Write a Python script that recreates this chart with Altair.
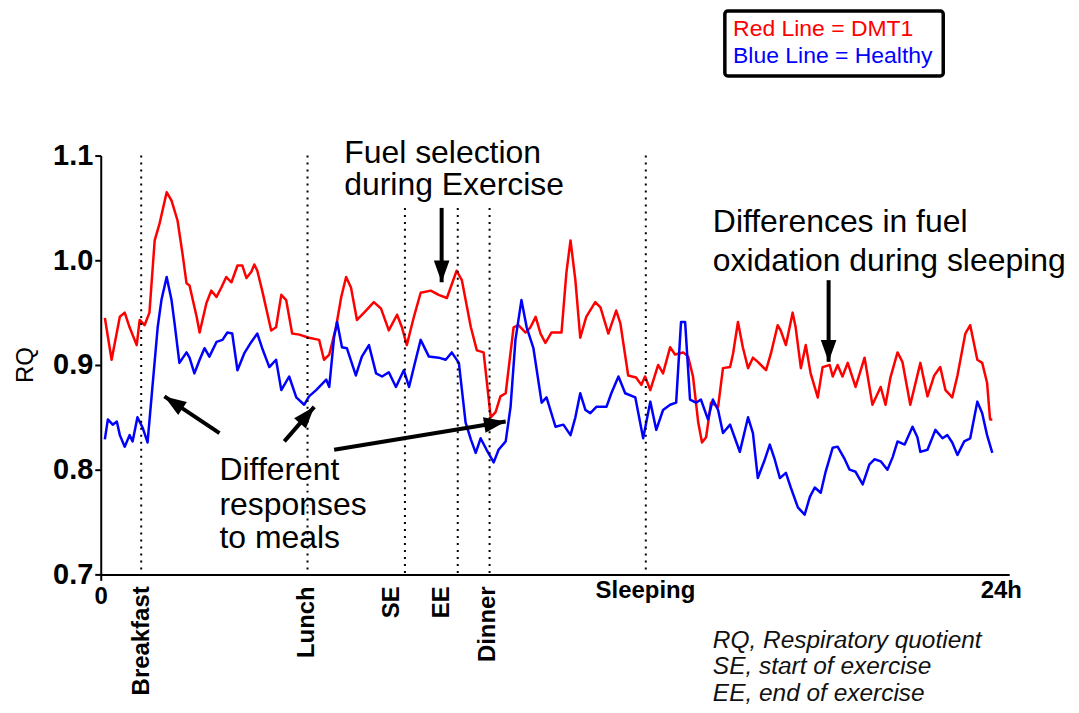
import math
import altair as alt
import pandas as pd

# ---------------- data ----------------
dmt1_hours = [0.11, 0.29, 0.51, 0.64, 0.77, 0.96, 1.04, 1.17, 1.30, 1.44, 1.57, 1.76, 1.89, 2.05, 2.18, 2.29, 2.37,
              2.56, 2.64, 2.82, 2.95, 3.09, 3.22, 3.35, 3.49, 3.65, 3.78, 3.89, 4.02, 4.10, 4.18, 4.31, 4.55, 4.68,
              4.82, 4.95, 5.11, 5.30, 5.56, 5.83, 5.96, 6.10, 6.28, 6.42, 6.55, 6.68, 6.84, 7.03, 7.29, 7.48, 7.69,
              7.91, 8.04, 8.17, 8.36, 8.54, 8.81, 9.02, 9.24, 9.50, 9.64, 9.88, 10.04, 10.22, 10.30, 10.41, 10.54,
              10.67, 10.81, 11.02, 11.15, 11.34, 11.47, 11.61, 11.74, 11.87, 12.03, 12.30, 12.43, 12.54, 12.67,
              12.80, 12.96, 13.20, 13.34, 13.55, 13.76, 13.87, 14.08, 14.29, 14.43, 14.53, 14.67, 14.88, 15.01,
              15.20, 15.33, 15.55, 15.68, 15.81, 15.95, 16.05, 16.16, 16.29, 16.48, 16.61, 16.80, 16.88, 17.01,
              17.14, 17.28, 17.41, 17.54, 17.76, 17.89, 18.07, 18.15, 18.29, 18.47, 18.55, 18.69, 18.82, 18.95,
              19.14, 19.27, 19.46, 19.54, 19.67, 19.80, 19.94, 20.15, 20.39, 20.60, 20.82, 20.95, 21.08, 21.27,
              21.40, 21.61, 21.88, 22.07, 22.25, 22.41, 22.55, 22.73, 22.87, 23.08, 23.21, 23.40, 23.53, 23.66,
              23.74, 23.80]
dmt1_rq = [0.945, 0.905, 0.946, 0.950, 0.936, 0.919, 0.943, 0.938, 0.950, 1.019, 1.035, 1.065, 1.057, 1.038, 1.007,
           0.978, 0.976, 0.946, 0.931, 0.959, 0.971, 0.965, 0.974, 0.984, 0.979, 0.995, 0.995, 0.983, 0.989, 0.996,
           0.990, 0.971, 0.933, 0.936, 0.967, 0.962, 0.930, 0.929, 0.926, 0.924, 0.905, 0.910, 0.936, 0.965, 0.984,
           0.974, 0.943, 0.950, 0.960, 0.954, 0.933, 0.948, 0.936, 0.919, 0.946, 0.969, 0.971, 0.967, 0.964, 0.990,
           0.981, 0.936, 0.914, 0.912, 0.886, 0.850, 0.855, 0.870, 0.873, 0.936, 0.938, 0.931, 0.936, 0.946, 0.930,
           0.921, 0.931, 0.931, 0.988, 1.019, 0.981, 0.926, 0.946, 0.960, 0.955, 0.930, 0.952, 0.940, 0.890, 0.888,
           0.881, 0.889, 0.876, 0.900, 0.892, 0.917, 0.910, 0.912, 0.908, 0.889, 0.845, 0.826, 0.831, 0.864, 0.860,
           0.897, 0.898, 0.911, 0.941, 0.917, 0.897, 0.907, 0.903, 0.895, 0.911, 0.938, 0.933, 0.919, 0.950, 0.936,
           0.897, 0.919, 0.892, 0.869, 0.898, 0.900, 0.889, 0.900, 0.889, 0.902, 0.879, 0.907, 0.862, 0.879, 0.862,
           0.888, 0.912, 0.903, 0.862, 0.902, 0.870, 0.890, 0.898, 0.876, 0.869, 0.890, 0.930, 0.938, 0.905, 0.902,
           0.883, 0.848, 0.848]

healthy_hours = [0.11, 0.19, 0.32, 0.43, 0.51, 0.64, 0.77, 0.85, 0.98, 1.12, 1.25, 1.38, 1.52, 1.62, 1.76, 1.89,
                 1.97, 2.10, 2.29, 2.37, 2.50, 2.64, 2.77, 2.90, 3.09, 3.25, 3.38, 3.51, 3.65, 3.83, 4.02, 4.18, 4.31,
                 4.50, 4.68, 4.82, 5.03, 5.22, 5.43, 5.56, 5.75, 6.02, 6.10, 6.23, 6.31, 6.44, 6.57, 6.81, 6.97,
                 7.16, 7.35, 7.51, 7.69, 7.88, 8.09, 8.23, 8.36, 8.54, 8.76, 9.02, 9.21, 9.37, 9.56, 9.74, 9.88,
                 10.01, 10.14, 10.30, 10.49, 10.62, 10.81, 10.94, 11.07, 11.23, 11.37, 11.55, 11.77, 11.90, 12.14,
                 12.35, 12.54, 12.67, 12.80, 12.94, 13.07, 13.23, 13.50, 13.63, 13.82, 14.00, 14.27, 14.48, 14.67,
                 14.83, 15.01, 15.20, 15.36, 15.49, 15.60, 15.73, 15.89, 16.02, 16.21, 16.34, 16.48, 16.61, 16.80,
                 16.93, 17.06, 17.28, 17.41, 17.54, 17.73, 17.86, 17.99, 18.13, 18.29, 18.42, 18.61, 18.79, 18.93,
                 19.06, 19.22, 19.35, 19.54, 19.67, 19.86, 19.99, 20.15, 20.34, 20.52, 20.66, 20.82, 21.00, 21.14,
                 21.27, 21.46, 21.67, 21.80, 21.88, 22.07, 22.28, 22.47, 22.60, 22.73, 22.87, 23.05, 23.21, 23.40,
                 23.53, 23.66, 23.80]
healthy_rq = [0.829, 0.848, 0.843, 0.846, 0.833, 0.822, 0.833, 0.827, 0.850, 0.840, 0.826, 0.879, 0.936, 0.962,
              0.984, 0.962, 0.940, 0.902, 0.912, 0.907, 0.892, 0.905, 0.916, 0.908, 0.922, 0.924, 0.931, 0.930,
              0.895, 0.911, 0.922, 0.930, 0.916, 0.898, 0.905, 0.876, 0.889, 0.869, 0.862, 0.870, 0.876, 0.886,
              0.879, 0.927, 0.941, 0.917, 0.916, 0.890, 0.908, 0.919, 0.892, 0.889, 0.893, 0.879, 0.895, 0.879,
              0.898, 0.924, 0.908, 0.907, 0.905, 0.912, 0.902, 0.845, 0.829, 0.816, 0.830, 0.819, 0.807, 0.819,
              0.827, 0.860, 0.924, 0.962, 0.936, 0.916, 0.864, 0.869, 0.841, 0.843, 0.833, 0.850, 0.873, 0.857,
              0.854, 0.860, 0.860, 0.873, 0.889, 0.873, 0.869, 0.830, 0.865, 0.838, 0.857, 0.862, 0.864, 0.941,
              0.941, 0.867, 0.864, 0.867, 0.848, 0.867, 0.857, 0.835, 0.843, 0.830, 0.817, 0.850, 0.835, 0.792,
              0.810, 0.824, 0.810, 0.792, 0.797, 0.783, 0.764, 0.757, 0.774, 0.783, 0.778, 0.798, 0.821, 0.822,
              0.810, 0.800, 0.798, 0.786, 0.805, 0.810, 0.808, 0.800, 0.812, 0.827, 0.824, 0.841, 0.831, 0.817,
              0.819, 0.838, 0.830, 0.833, 0.826, 0.814, 0.827, 0.830, 0.865, 0.854, 0.833, 0.816]

series_names = ["DMT1", "Healthy"]
series_colors = ["#FF0000", "#0000FF"]

event_names = ["Breakfast", "Lunch", "SE", "EE", "Dinner", "Sleeping"]
event_hours = [1.08, 5.52, 8.12, 9.53, 10.38, 14.55]
event_tops = [1.10, 1.10, 1.05, 1.05, 1.05, 1.10]
event_label_hours = [1.09, 5.51, 7.77, 9.10, 10.35]   # rotated labels (first five)
sleep_label_hour = 14.54

y_ticks = [0.7, 0.8, 0.9, 1.0, 1.1]
y_title = "RQ"
y_title_pos = [-2.0, 0.9]   # hour, RQ (left of the axis)

# annotation text lines: text, hour (left edge), RQ (baseline)
note_texts = ["Fuel selection", "during Exercise", "Differences in fuel", "oxidation during sleeping",
              "Different", "responses", "to meals"]
note_hours = [6.50, 6.50, 16.34, 16.34, 3.17, 3.17, 3.17]
note_rq = [1.093, 1.062, 1.027, 0.990, 0.790, 0.757, 0.725]

foot_texts = ["RQ, Respiratory quotient", "SE, start of exercise", "EE, end of exercise"]
foot_hour = 16.34
foot_rq = [0.630, 0.605, 0.579]

legend_texts = ["Red Line = DMT1", "Blue Line = Healthy"]
legend_rq = [1.214, 1.188]
legend_hour = 16.88
legend_box = [16.66, 22.49, 1.176, 1.238]  # x1, x2, y1, y2

# arrows: tail (hour, RQ) -> tip (hour, RQ)
arrow_tail_h = [3.17, 4.90, 6.23, 9.10, 19.43]
arrow_tail_rq = [0.835, 0.827, 0.819, 1.050, 0.981]
arrow_tip_h = [1.70, 5.70, 10.81, 9.10, 19.43]
arrow_tip_rq = [0.870, 0.860, 0.846, 0.979, 0.903]

# ---------------- layout ----------------
W, H = 911, 420
XMAX = 24.25
YMIN, YMAX = 0.7, 1.1
PXH = W / XMAX
PXR = H / (YMAX - YMIN)
FONT = "Liberation Sans"

xs = alt.Scale(domain=[0, XMAX], nice=False, zero=False)
ys = alt.Scale(domain=[YMIN, YMAX], nice=False, zero=False)

lines_df = pd.DataFrame({
    "hour": dmt1_hours + healthy_hours,
    "rq": dmt1_rq + healthy_rq,
    "group": [series_names[0]] * len(dmt1_hours) + [series_names[1]] * len(healthy_hours),
})

base_x = alt.X("hour:Q", scale=xs, title=None, axis=alt.Axis(values=[0], labelFlush=False))
base_y = alt.Y("rq:Q", scale=ys, title=None, axis=alt.Axis(values=y_ticks, format=".1f"))


def px(field):
    return alt.X(field, scale=xs, title=None)


def py(field):
    return alt.Y(field, scale=ys, title=None)


def make_line(name, color):
    return alt.Chart(lines_df).transform_filter(alt.datum.group == name).mark_line(
        color=color, strokeWidth=2.5, strokeJoin="round").encode(x=base_x, y=base_y, order="hour:Q")

red_line = make_line(series_names[0], series_colors[0])
blue_line = make_line(series_names[1], series_colors[1])

events_df = pd.DataFrame({"name": event_names, "hour": event_hours, "top": event_tops,
                          "bottom": [YMIN] * len(event_names)})
event_rules = alt.Chart(events_df).mark_rule(color="black", strokeWidth=2, strokeDash=[2, 5]).encode(
    x=px("hour:Q"), y=py("top:Q"), y2="bottom:Q")

rot_df = pd.DataFrame({"name": event_names[:5], "hour": event_label_hours, "rq": [0.6886] * 5})
rot_labels = alt.Chart(rot_df).mark_text(angle=270, align="right", baseline="middle", font=FONT, fontSize=24,
                                         fontWeight="bold", color="black").encode(
    x=px("hour:Q"), y=py("rq:Q"), text="name:N")

ytitle_df = pd.DataFrame({"t": [y_title], "hour": [y_title_pos[0]], "rq": [y_title_pos[1]]})
ytitle = alt.Chart(ytitle_df).mark_text(angle=270, align="center", baseline="middle", font=FONT, fontSize=24,
                                        color="black").encode(
    x=px("hour:Q"), y=py("rq:Q"), text="t:N")

flat_df = pd.DataFrame({"name": [event_names[5], "24h"], "hour": [sleep_label_hour, 24.04],
                        "rq": [0.6838, 0.6838]})
flat_labels = alt.Chart(flat_df).mark_text(align="center", baseline="middle", font=FONT, fontSize=24,
                                           fontWeight="bold", color="black").encode(
    x=px("hour:Q"), y=py("rq:Q"), text="name:N")

notes_df = pd.DataFrame({"t": note_texts, "hour": note_hours, "rq": note_rq})
notes = alt.Chart(notes_df).mark_text(align="left", baseline="alphabetic", font=FONT, fontSize=32,
                                      color="black").encode(
    x=px("hour:Q"), y=py("rq:Q"), text="t:N")

foot_df = pd.DataFrame({"t": foot_texts, "hour": [foot_hour] * 3, "rq": foot_rq})
foot = alt.Chart(foot_df).mark_text(align="left", baseline="alphabetic", font=FONT, fontSize=24.5,
                                    fontStyle="italic", color="#111111").encode(
    x=px("hour:Q"), y=py("rq:Q"), text="t:N")

box_df = pd.DataFrame({"x1": [legend_box[0]], "x2": [legend_box[1]], "y1": [legend_box[2]], "y2": [legend_box[3]]})
legend_rect = alt.Chart(box_df).mark_rect(fill="white", stroke="black", strokeWidth=3.5, cornerRadius=3).encode(
    x=px("x1:Q"), x2="x2:Q", y=py("y1:Q"), y2="y2:Q")

leg_df = pd.DataFrame({"t": legend_texts, "hour": [legend_hour] * 2, "rq": legend_rq, "c": series_colors})
legend_text = alt.Chart(leg_df).mark_text(align="left", baseline="alphabetic", font=FONT, fontSize=23).encode(
    x=px("hour:Q"), y=py("rq:Q"), text="t:N",
    color=alt.Color("c:N", scale=None))

angles = []
for th, tr, ph, pr in zip(arrow_tail_h, arrow_tail_rq, arrow_tip_h, arrow_tip_rq):
    dx = (ph - th) * PXH
    dy = -(pr - tr) * PXR
    angles.append(math.degrees(math.atan2(dx, -dy)) % 360)

arrows_df = pd.DataFrame({"th": arrow_tail_h, "tr": arrow_tail_rq, "ph": arrow_tip_h, "pr": arrow_tip_rq,
                          "ang": angles})
arrow_shafts = alt.Chart(arrows_df).mark_rule(color="black", strokeWidth=4).encode(
    x=px("th:Q"), y=py("tr:Q"), x2="ph:Q", y2="pr:Q")
arrow_heads = alt.Chart(arrows_df).mark_point(shape="M0,0 L-0.36,1 L0.36,1 Z", filled=True, color="black",
                                              opacity=1, size=1900, strokeWidth=0).encode(
    x=px("ph:Q"), y=py("pr:Q"), angle=alt.Angle("ang:Q", scale=None))

chart = alt.layer(
    red_line, blue_line, event_rules, arrow_shafts, arrow_heads, rot_labels, ytitle, flat_labels, notes, foot,
    legend_rect, legend_text
).properties(
    width=W, height=H,
    autosize=alt.AutoSizeParams(type="none"),
    padding={"left": 93, "top": 147, "right": 62, "bottom": 135},
    background="white",
).configure_view(stroke=None).configure_axis(
    grid=False, domainColor="black", domainWidth=2, tickColor="black", tickWidth=2, tickSize=6,
    labelColor="black", labelFont=FONT, labelFontWeight="bold", labelFlush=False,
).configure_axisX(
    labelFontSize=24, labelPadding=4,
).configure_axisY(
    labelFontSize=29, labelPadding=2,
)

chart.save("out.html", embed_options={"renderer": "svg", "actions": False})
